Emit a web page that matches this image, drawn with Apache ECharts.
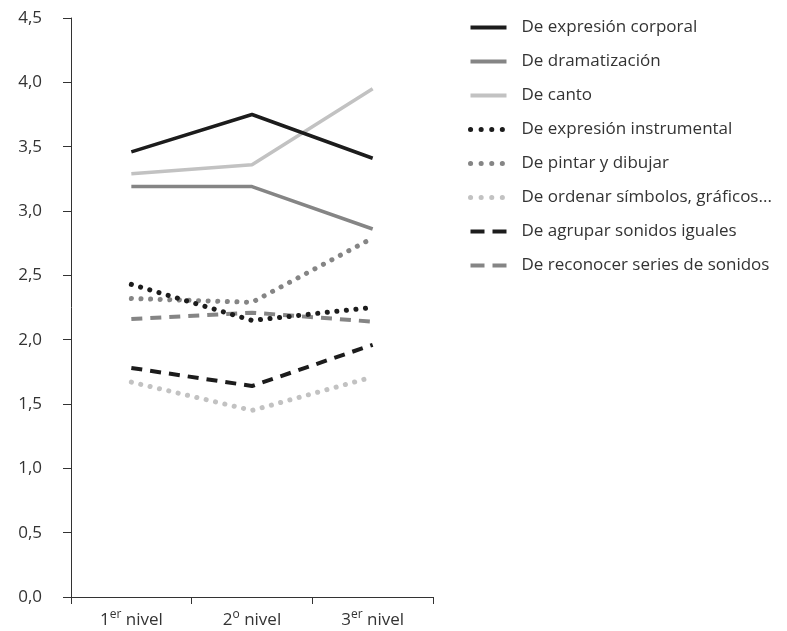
<!DOCTYPE html>
<html>
<head>
<meta charset="utf-8">
<script src="https://cdn.jsdelivr.net/npm/echarts@6/dist/echarts.min.js"></script>
<style>html,body{margin:0;padding:0;background:#fff}#c{width:787px;height:631px}</style>
</head>
<body>
<div id="c"></div>
<script>
var categories = ['1er nivel', '2o nivel', '3er nivel'];
var yTicks = [0, 0.5, 1, 1.5, 2, 2.5, 3, 3.5, 4, 4.5];
var names = ['De expresión corporal', 'De dramatización', 'De canto', 'De expresión instrumental',
  'De pintar y dibujar', 'De ordenar símbolos, gráficos...', 'De agrupar sonidos iguales', 'De reconocer series de sonidos'];
var corporal = [3.46, 3.75, 3.41];
var dramatizacion = [3.19, 3.19, 2.86];
var canto = [3.29, 3.36, 3.95];
var instrumental = [2.43, 2.15, 2.25];
var pintar = [2.32, 2.29, 2.79];
var ordenar = [1.67, 1.45, 1.71];
var agrupar = [1.78, 1.64, 1.96];
var reconocer = [2.16, 2.21, 2.14];

var values = [corporal, dramatizacion, canto, instrumental, pintar, ordenar, agrupar, reconocer];
var colors = ['#1c1c1c', '#858585', '#c2c2c2', '#1c1c1c', '#858585', '#c2c2c2', '#1c1c1c', '#858585'];
var kinds = ['solid', 'solid', 'solid', 'dot', 'dot', 'dot', 'dash', 'dash'];

var series = values.map(function (v, i) {
  var ls = { color: colors[i], width: 3.5 };
  if (kinds[i] === 'dot') { ls.type = [0.1, 9.5]; ls.cap = 'round'; ls.width = 5; }
  if (kinds[i] === 'dash') { ls.type = [11, 8]; ls.width = 4; }
  return {
    name: names[i], type: 'line', data: v, symbol: 'none', lineStyle: ls,
    itemStyle: { color: colors[i] }, z: 10 - i
  };
});

var legendData = names.map(function (n, i) {
  var ls = { color: colors[i], width: 4 };
  if (kinds[i] === 'dot') { ls.type = [0.1, 10.5]; ls.cap = 'round'; ls.width = 5; }
  if (kinds[i] === 'dash') { ls.type = [14, 8]; ls.width = 4; }
  return { name: n, lineStyle: ls, itemStyle: { opacity: 0 } };
});

var chart = echarts.init(document.getElementById('c'));
chart.setOption({
  animation: false,
  textStyle: { fontFamily: 'Open Sans' },
  grid: { left: 71, right: 354, top: 18, bottom: 34, containLabel: false },
  legend: {
    orient: 'vertical', left: 463, top: 14, itemWidth: 36, itemHeight: 14, itemGap: 17,
    itemStyle: { opacity: 0 },
    textStyle: { fontSize: 17, color: '#333', fontFamily: 'Open Sans', lineHeight: 14, padding: [0, 0, 0, 10] },
    data: legendData
  },
  xAxis: {
    type: 'category', data: categories, boundaryGap: true,
    axisLine: { lineStyle: { color: '#333', width: 1 } },
    axisTick: { show: true, interval: 0, length: 7, lineStyle: { color: '#333' } },
    axisLabel: {
      interval: 0, hideOverlap: false, margin: 12, color: '#333', fontSize: 17,
      formatter: function (s) {
        var m = s.match(/^(\d)(\S+) (.*)$/);
        return '{n|' + m[1] + '}{s|' + m[2] + '} {n|' + m[3] + '}';
      },
      rich: {
        n: { fontSize: 17, color: '#333', fontFamily: 'Open Sans', verticalAlign: 'bottom', lineHeight: 20 },
        s: { fontSize: 12, color: '#333', fontFamily: 'Open Sans', verticalAlign: 'top', padding: [0, 0, 8, 0], lineHeight: 20 }
      }
    }
  },
  yAxis: {
    type: 'value', min: 0, max: 4.5, interval: 0.5,
    axisLine: { show: true, lineStyle: { color: '#333', width: 1 } },
    axisTick: { show: true, length: 8, lineStyle: { color: '#333' } },
    splitLine: { show: false },
    axisLabel: {
      margin: 29, color: '#333', fontSize: 17,
      formatter: function (v) { return v.toFixed(1).replace('.', ','); }
    }
  },
  series: series
});
</script>
</body>
</html>
